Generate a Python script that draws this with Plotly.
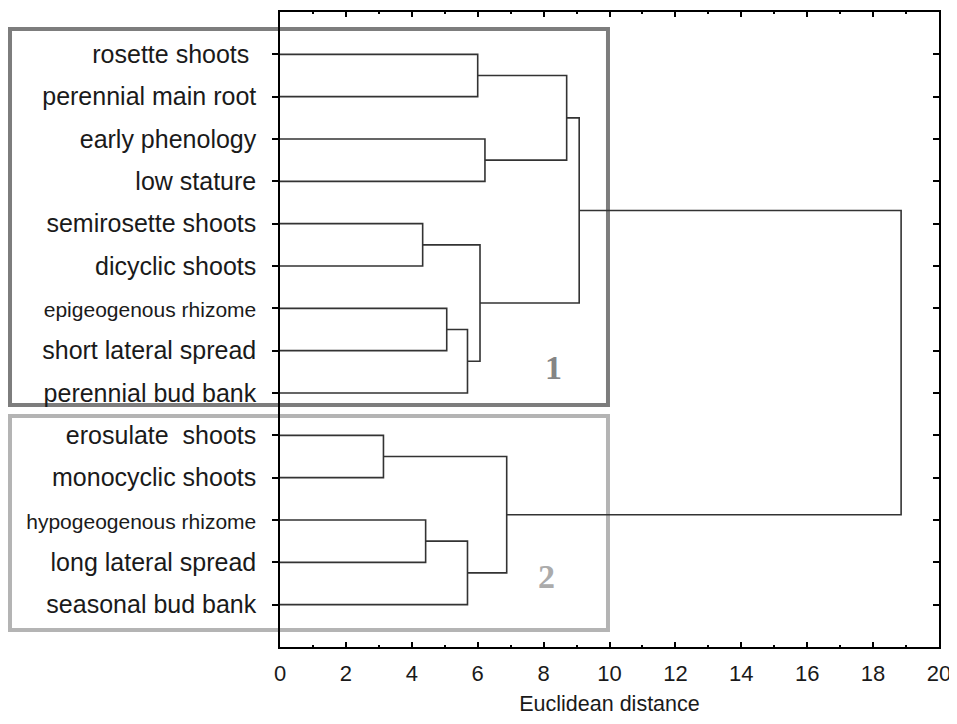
import plotly.graph_objects as go

# ---- data ----
leaf_labels = ["rosette shoots ", "perennial main root", "early phenology", "low stature",
               "semirosette shoots", "dicyclic shoots", "epigeogenous rhizome",
               "short lateral spread", "perennial bud bank", "erosulate  shoots",
               "monocyclic shoots", "hypogeogenous rhizome", "long lateral spread",
               "seasonal bud bank"]
small_labels = ["epigeogenous rhizome", "hypogeogenous rhizome"]

# linkage: clusters 0..13 are leaves, merge k creates cluster 14+k
merge_left = [0, 2, 14, 4, 6, 18, 17, 16, 9, 11, 23, 22, 21]
merge_right = [1, 3, 15, 5, 7, 8, 19, 20, 10, 12, 13, 24, 25]
merge_height = [6.00, 6.22, 8.70, 4.33, 5.06, 5.69, 6.07, 9.08, 3.14, 4.42, 5.69, 6.88, 18.85]

x_ticks = list(range(0, 21, 2))
x_title = "Euclidean distance"
group_names = ["1", "2"]

# ---- build dendrogram segments ----
n = len(leaf_labels)
pos = {i: i + 1 for i in range(n)}
hgt = {i: 0.0 for i in range(n)}
xs, ys = [], []
for k, (a, b, h) in enumerate(zip(merge_left, merge_right, merge_height)):
    xs += [hgt[a], h, h, hgt[b], None]
    ys += [pos[a], pos[a], pos[b], pos[b], None]
    pos[n + k] = (pos[a] + pos[b]) / 2
    hgt[n + k] = h

ticktext = []
for lab in leaf_labels:
    if lab in small_labels:
        ticktext.append("<span style='font-size:21px'>%s</span>" % lab)
    else:
        ticktext.append(lab)

fig = go.Figure()
fig.add_trace(go.Scatter(x=xs, y=ys, mode="lines",
                         line=dict(color="#333333", width=1.6),
                         hoverinfo="skip", showlegend=False))
fig.add_trace(go.Scatter(x=[None], y=[None], xaxis="x2", yaxis="y2",
                         showlegend=False, hoverinfo="skip"))

axis_font = dict(family="Liberation Sans, Arial, sans-serif", color="#1a1a1a")
minor = dict(dtick=1, tick0=0, ticks="inside", ticklen=2.5, tickcolor="black", tickwidth=1.5, showgrid=False)

fig.update_layout(
    width=949, height=708,
    margin=dict(l=272, r=18, t=4, b=69),
    paper_bgcolor="white", plot_bgcolor="rgba(0,0,0,0)",
    showlegend=False,
    xaxis=dict(range=[0, 20], tickvals=x_ticks, ticks="inside", ticklen=5, tickwidth=1.5,
               tickcolor="black", showline=True, linecolor="black", linewidth=1.5,
               showgrid=False, zeroline=False, automargin=False, minor=minor,
               ticklabeloverflow="allow",
               tickfont=dict(size=22, **axis_font), ticklabelstandoff=6,
               title=dict(text=x_title, font=dict(size=21.5, **axis_font), standoff=35)),
    xaxis2=dict(range=[0, 20], overlaying="x", side="top", tickvals=x_ticks, ticks="inside",
                ticklen=5, tickwidth=1.5, tickcolor="black", showline=True, linecolor="black",
                linewidth=1.5, showgrid=False, zeroline=False, showticklabels=False,
                automargin=False, minor=minor),
    yaxis=dict(range=[15, 0], tickvals=list(range(1, n + 1)), ticktext=ticktext,
               ticks="outside", ticklen=6, tickwidth=1.5, tickcolor="black",
               showline=True, linecolor="black", linewidth=1.5, showgrid=False, zeroline=False,
               automargin=False, tickfont=dict(size=25, **axis_font), ticklabelstandoff=11),
    yaxis2=dict(range=[15, 0], overlaying="y", side="right", tickvals=list(range(1, n + 1)),
                ticks="inside", ticklen=6, tickwidth=1.5, tickcolor="black",
                showline=True, linecolor="black", linewidth=1.5, showgrid=False,
                zeroline=False, showticklabels=False, automargin=False),
)

# group boxes (paper coordinates)
fig.add_shape(type="rect", xref="paper", yref="paper", x0=-0.4097, x1=0.4977, y0=0.3811, y1=0.9732,
              line=dict(color="#7d7d7d", width=4), layer="below")
fig.add_shape(type="rect", xref="paper", yref="paper", x0=-0.4097, x1=0.4977, y0=0.0268, y1=0.3638,
              line=dict(color="#b4b4b4", width=4), layer="below")

fig.add_annotation(x=8.29, y=8.39, text="<b>%s</b>" % group_names[0], showarrow=False,
                   font=dict(family="Liberation Serif, Times New Roman, serif", size=34, color="#858585"))
fig.add_annotation(x=8.10, y=13.34, text="<b>%s</b>" % group_names[1], showarrow=False,
                   font=dict(family="Liberation Serif, Times New Roman, serif", size=34, color="#ababab"))

fig.write_html("out.html")
